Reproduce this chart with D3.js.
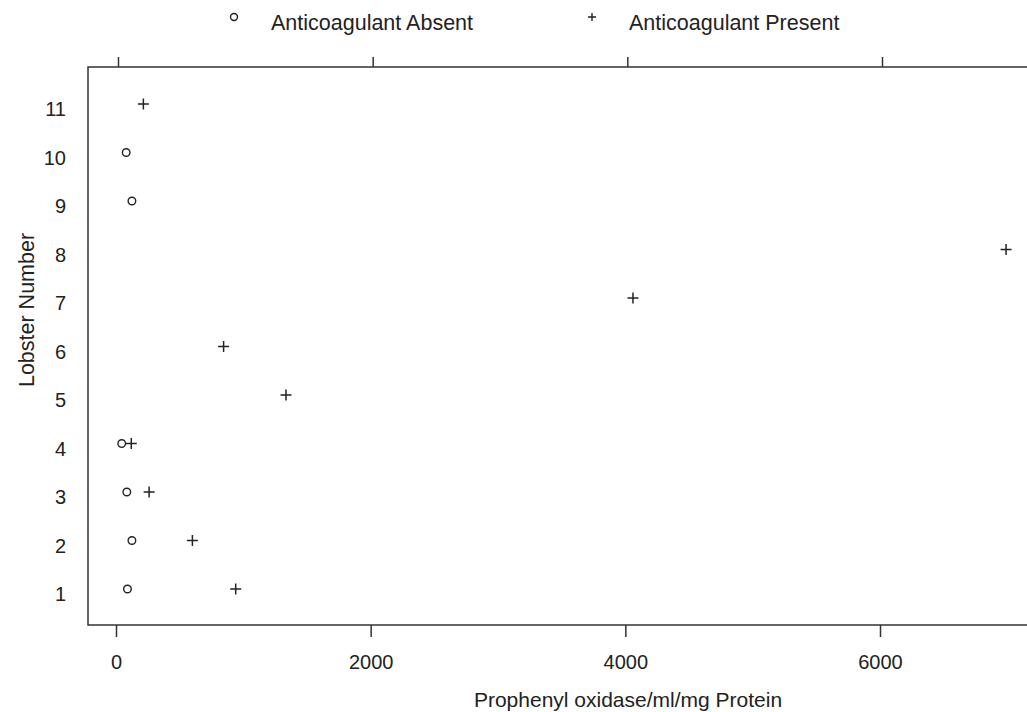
<!DOCTYPE html>
<html>
<head>
<meta charset="utf-8">
<script src="https://cdn.jsdelivr.net/npm/d3@7"></script>
<style>
  body { margin: 0; background: #fff; }
  text { font-family: "Liberation Sans", Arial, sans-serif; fill: #222; }
</style>
</head>
<body>
<div id="chart"></div>
<script>
var svgWidth = 1027;
var svgHeight = 712;

// lobster numbers and readings (Prophenyl oxidase/ml/mg Protein)
var absentLobsters = [1, 2, 3, 4, 9, 10];
var absentValues = [90, 125, 85, 45, 125, 80];

var presentLobsters = [1, 2, 3, 4, 5, 6, 7, 8, 11];
var presentValues = [940, 600, 260, 120, 1335, 845, 4060, 6990, 215];

var xTicks = [0, 2000, 4000, 6000];
var yTicks = [1, 2, 3, 4, 5, 6, 7, 8, 9, 10, 11];

var legendLabels = ["Anticoagulant Absent", "Anticoagulant Present"];

// plot frame
var box = { left: 88, top: 67, right: 1032, bottom: 625 };

var svg = d3.select("#chart").append("svg")
  .attr("width", svgWidth)
  .attr("height", svgHeight);

var xScale = d3.scaleLinear()
  .domain([0, 6000])
  .range([116, 880]);

var yScale = d3.scaleLinear()
  .domain([1, 11])
  .range([589, 104]);

// frame
svg.append("rect")
  .attr("x", box.left)
  .attr("y", box.top)
  .attr("width", box.right - box.left)
  .attr("height", box.bottom - box.top)
  .attr("fill", "none")
  .attr("stroke", "#333")
  .attr("stroke-width", 1.5);

// bottom axis
var bottomAxis = d3.axisBottom(xScale)
  .tickValues(xTicks)
  .tickSize(12)
  .tickPadding(18)
  .tickFormat(d3.format("d"));

var xAxis = svg.append("g")
  .attr("transform", `translate(0, ${box.bottom})`)
  .call(bottomAxis);
xAxis.select(".domain").remove();
xAxis.selectAll("line").attr("stroke", "#333").attr("stroke-width", 1.5);
xAxis.selectAll("text")
  .attr("font-size", "20px")
  .style("font-family", "Liberation Sans, Arial, sans-serif")
  .attr("fill", "#222");

// top axis, ticks only
var topAxis = d3.axisTop(xScale)
  .tickValues(xTicks)
  .tickSize(10)
  .tickFormat("");

var xAxisTop = svg.append("g")
  .attr("transform", `translate(2, ${box.top})`)
  .call(topAxis);
xAxisTop.select(".domain").remove();
xAxisTop.selectAll("line").attr("stroke", "#333").attr("stroke-width", 1.5);

// left axis, labels only
var leftAxis = d3.axisLeft(yScale)
  .tickValues(yTicks)
  .tickSize(0)
  .tickPadding(22);

var yAxis = svg.append("g")
  .attr("transform", `translate(${box.left}, 0)`)
  .call(leftAxis);
yAxis.select(".domain").remove();
yAxis.selectAll("text")
  .attr("font-size", "20px")
  .attr("dy", "0.58em")
  .style("font-family", "Liberation Sans, Arial, sans-serif")
  .attr("fill", "#222");

// axis titles
svg.append("text")
  .attr("x", 628)
  .attr("y", 707)
  .attr("text-anchor", "middle")
  .attr("font-size", "21px")
  .text("Prophenyl oxidase/ml/mg Protein");

svg.append("text")
  .attr("transform", "translate(34, 310) rotate(-90)")
  .attr("text-anchor", "middle")
  .attr("font-size", "21.5px")
  .text("Lobster Number");

// markers
var absentData = absentLobsters.map((n, i) => ({ n: n, v: absentValues[i] }));
var presentData = presentLobsters.map((n, i) => ({ n: n, v: presentValues[i] }));

svg.selectAll(".absent")
  .data(absentData)
  .enter()
  .append("circle")
  .classed("absent", true)
  .attr("cx", d => xScale(d.v))
  .attr("cy", d => yScale(d.n))
  .attr("r", 3.8)
  .attr("fill", "none")
  .attr("stroke", "#222")
  .attr("stroke-width", 1.4);

svg.selectAll(".present")
  .data(presentData)
  .enter()
  .append("path")
  .classed("present", true)
  .attr("transform", d => `translate(${xScale(d.v)}, ${yScale(d.n)})`)
  .attr("d", "M-5.5,0H5.5M0,-5.5V5.5")
  .attr("stroke", "#222")
  .attr("stroke-width", 1.5);

// legend
var legend = svg.append("g");

legend.append("circle")
  .attr("cx", 234)
  .attr("cy", 17)
  .attr("r", 3.5)
  .attr("fill", "none")
  .attr("stroke", "#222")
  .attr("stroke-width", 1.4);

legend.append("text")
  .attr("x", 271)
  .attr("y", 30)
  .attr("font-size", "21.5px")
  .text(legendLabels[0]);

legend.append("path")
  .attr("transform", "translate(592, 17)")
  .attr("d", "M-4,0H4M0,-4V4")
  .attr("stroke", "#222")
  .attr("stroke-width", 1.4);

legend.append("text")
  .attr("x", 629)
  .attr("y", 30)
  .attr("font-size", "21.5px")
  .text(legendLabels[1]);
</script>
</body>
</html>
